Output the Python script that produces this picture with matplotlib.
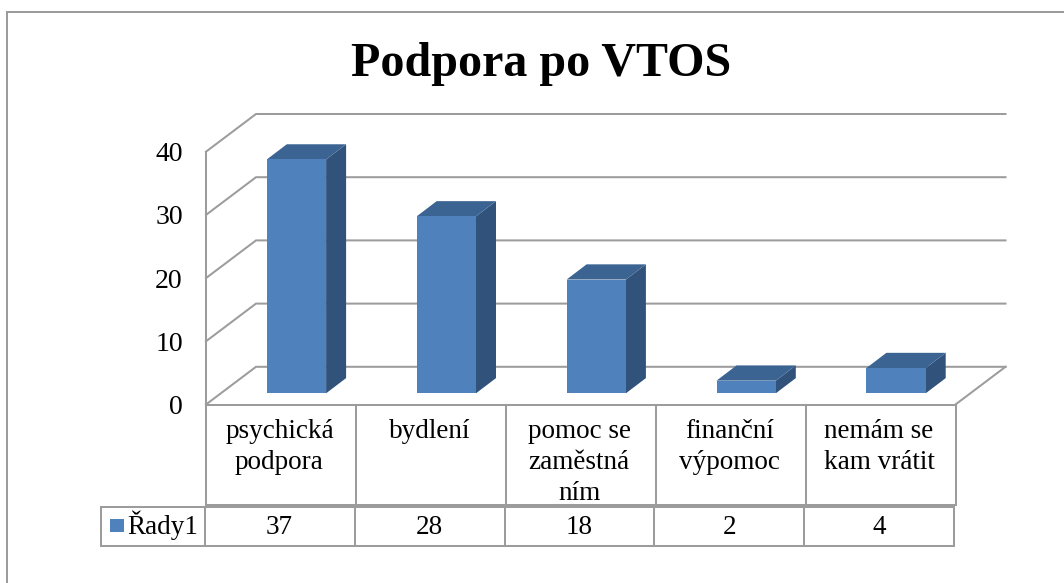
import matplotlib
matplotlib.use("Agg")
import matplotlib.pyplot as plt
from matplotlib.lines import Line2D
from matplotlib.patches import Rectangle
from matplotlib.transforms import Affine2D, blended_transform_factory

title = "Podpora po VTOS"
series_name = "Řady1"
category_lines = [
    ["psychická", "podpora"],
    ["bydlení"],
    ["pomoc se", "zaměstná", "ním"],
    ["finanční", "výpomoc"],
    ["nemám se", "kam vrátit"],
]
values = [37, 28, 18, 2, 4]
y_ticks = [0, 10, 20, 30, 40]

W, H = 1064, 583
GRID = "#9C9C9C"
FRONT, SIDE, TOP = "#4F81BD", "#31527B", "#3C6493"
LW = 1.45
SERIF = "Liberation Serif"
L, R, Y0, Y40 = 206.0, 955.5, 404.5, 151.7
ux = (R - L) / 5
uy = (Y0 - Y40) / 40

fig = plt.figure(figsize=(W / 100, H / 100), dpi=100, facecolor="white")
ax = fig.add_axes([L / W, 1 - Y0 / H, (R - L) / W, (Y0 - Y40) / H])
ax.set_xlim(0, 5)
ax.set_ylim(0, 40)
ax.patch.set_alpha(0)
for s in ("top", "right"):
    ax.spines[s].set_visible(False)
for s in ("left", "bottom"):
    ax.spines[s].set_color(GRID)
    ax.spines[s].set_linewidth(LW)
ax.set_xticks([])
ax.set_yticks(y_ticks)
ax.tick_params(axis="y", length=0, pad=16.7, labelsize=20, labelcolor="black")
for lab in ax.get_yticklabels():
    lab.set_family(SERIF)

# walls: depth expressed in data units
wall_dx, wall_dy = 50 / ux, 37.7 / uy
for t in y_ticks:
    ax.plot([0, wall_dx, 5 + wall_dx], [t, t + wall_dy, t + wall_dy],
            color=GRID, lw=LW, clip_on=False, zorder=1, solid_joinstyle="miter")
ax.plot([5, 5 + wall_dx], [0, wall_dy], color=GRID, lw=LW, clip_on=False, zorder=1)

# bars
inset_x, inset_y = 15.5 / ux, 11.2 / uy
bar_w = 59.3 / ux
depth_x, depth_y = 20 / ux, 15.2 / uy
for i, v in enumerate(values):
    x0 = i + 0.5 + inset_x - bar_w / 2
    x1 = x0 + bar_w
    b, t = inset_y, inset_y + v
    ax.fill([x1, x1 + depth_x, x1 + depth_x, x1],
            [b, b + depth_y, t + depth_y, t], color=SIDE, lw=0, clip_on=False, zorder=3)
    ax.fill([x0, x1, x1 + depth_x, x0 + depth_x],
            [t, t, t + depth_y, t + depth_y], color=TOP, lw=0, clip_on=False, zorder=3)
    ax.bar(x0, v, width=bar_w, bottom=b, align="edge", color=FRONT, lw=0, zorder=4, clip_on=False)

# pixel helpers
px = Affine2D().scale(1 / W, -1 / H).translate(0, 1) + fig.transFigure
xdata_ypx = blended_transform_factory(ax.transData, px)


def seg(x0, y0, x1, y1):
    fig.add_artist(Line2D([x0, x1], [y0, y1], transform=px, color=GRID, lw=LW,
                          solid_capstyle="projecting"))


# outer chart border
seg(7, 12, W + 5, 12)
seg(7, 12, 7, H + 5)

# data table
upper_bottom, lower_top, lower_bottom = 505, 506.5, 545.5
for i in range(6):
    xp = L + i * ux
    seg(xp, Y0, xp, upper_bottom)
    seg(xp - 1.3, lower_top, xp - 1.3, lower_bottom)
seg(L, upper_bottom, R, upper_bottom)
seg(101, lower_top, R - 1.3, lower_top)
seg(101, lower_bottom, R - 1.3, lower_bottom)
seg(101, lower_top, 101, lower_bottom)

baselines = [438, 469, 499.5]
for i, lines in enumerate(category_lines):
    for j, s in enumerate(lines):
        ax.text(i + 0.49, baselines[j], s, transform=xdata_ypx, ha="center", va="baseline",
                family=SERIF, fontsize=19.5, color="black", clip_on=False)
for i, v in enumerate(values):
    ax.text(i + 0.49, 534, str(v), transform=xdata_ypx, ha="center", va="baseline",
            family=SERIF, fontsize=19.5, color="black", clip_on=False)

fig.add_artist(Rectangle((110, 519), 14, 13, transform=px, facecolor=FRONT, edgecolor="none"))
fig.text(127.5, 534, series_name, transform=px, ha="left", va="baseline",
         family=SERIF, fontsize=19.5, color="black")
fig.text(541, 76.5, title, transform=px, ha="center", va="baseline",
         family=SERIF, fontsize=34.6, fontweight="bold", color="black")

fig.savefig("out.png", dpi=100, facecolor="white")
